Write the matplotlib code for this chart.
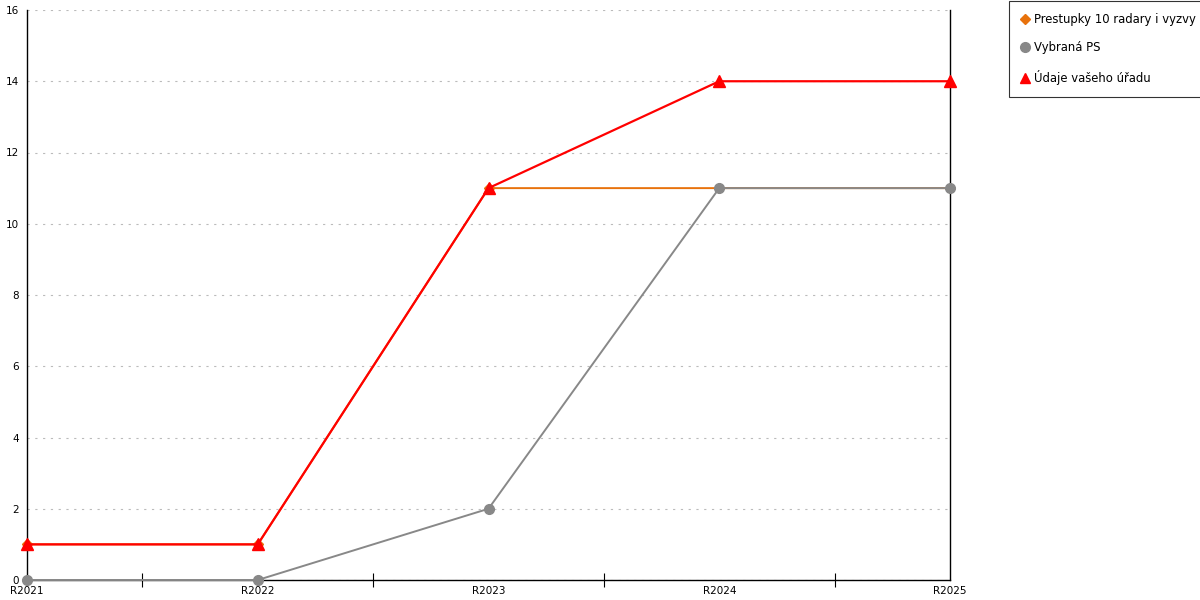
import matplotlib.pyplot as plt
from matplotlib.lines import Line2D

years = ['R2021', 'R2022', 'R2023', 'R2024', 'R2025']
prestupky = [1, 1, 11, 11, 11]
vybrana = [0, 0, 2, 11, 11]
udaje = [1, 1, 11, 14, 14]

plt.rcParams['font.family'] = ['DejaVu Sans']
fig = plt.figure(figsize=(12, 6), dpi=100)
ax = fig.add_axes([27 / 1200, 20 / 600, 923 / 1200, 570 / 600])

x = list(range(len(years)))
ax.plot(x, prestupky, color='#e8720c', lw=1.4, marker='D', ms=5, clip_on=False, zorder=3)
ax.plot(x, vybrana, color='#888888', lw=1.4, marker='o', ms=7, clip_on=False, zorder=4)
ax.plot(x, udaje, color='#ff0000', lw=1.6, marker='^', ms=8, clip_on=False, zorder=5)

ax.set_xlim(0, 4)
ax.set_ylim(0, 16)
ax.set_yticks(range(0, 17, 2))
ax.set_xticks(x)
ax.set_xticklabels(years)
ax.set_xticks([0.5, 1.5, 2.5, 3.5], minor=True)
ax.tick_params(axis='x', which='major', length=0, labelsize=7.5, pad=4)
ax.tick_params(axis='x', which='minor', length=10, direction='inout', width=0.8)
ax.tick_params(axis='y', length=0, labelsize=7.5, pad=6)
ax.yaxis.grid(True, linestyle=(0, (2, 5)), color='#bbbbbb', lw=0.8)
ax.set_axisbelow(True)
ax.spines['top'].set_visible(False)
for s in ['left', 'right', 'bottom']:
    ax.spines[s].set_linewidth(1)
    ax.spines[s].set_color('black')

handles = [
    Line2D([], [], color='#e8720c', marker='D', ms=5, lw=0),
    Line2D([], [], color='#888888', marker='o', ms=7, lw=0),
    Line2D([], [], color='#ff0000', marker='^', ms=7, lw=0),
]
labels = ['Prestupky 10 radary i vyzvy', 'Vybraná PS', 'Údaje vašeho úřadu']
leg = fig.legend(handles, labels, loc='upper left', bbox_to_anchor=(1009 / 1200, 1 - 1 / 600),
                 fontsize=8.4, frameon=True, fancybox=False, edgecolor='black',
                 handlelength=0.6, handletextpad=0.5, labelspacing=1.3, borderpad=1.05,
                 borderaxespad=0)
leg.get_frame().set_linewidth(0.8)

fig.savefig('out.png', dpi=100)
